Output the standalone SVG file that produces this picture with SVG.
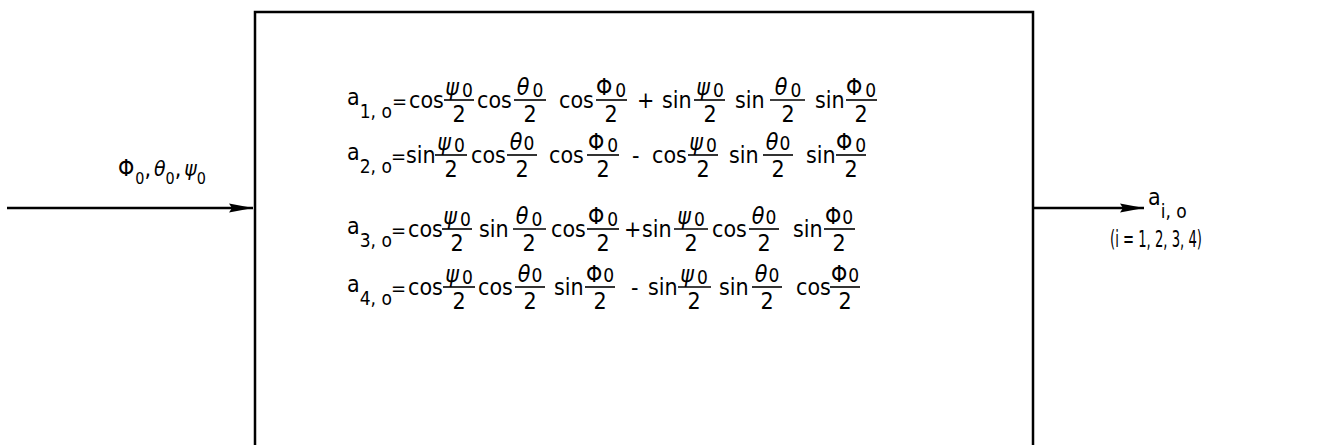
<svg xmlns="http://www.w3.org/2000/svg" width="1323" height="445" viewBox="0 0 1323 445">
<style>
text{font-family:"Liberation Sans Narrow","DejaVu Sans Condensed","Liberation Sans",sans-serif;font-size:23px;fill:#000}
.g{font-style:italic}
.s{font-size:19px}
.ls{font-size:16px}
.eq{font-size:20px}
.bar{stroke:#000;stroke-width:1.6}
.box{fill:none;stroke:#000;stroke-width:2.5}
.conn{stroke:#000;stroke-width:2.4;fill:none}
.n{text-anchor:middle}
</style>
<defs>
<marker id="ah" markerWidth="26" markerHeight="12" refX="24" refY="6" orient="auto" markerUnits="userSpaceOnUse">
<path d="M0,1.5 L24,6 L0,10.5 L3,6 Z" fill="#000"/>
</marker>
</defs>
<rect width="1323" height="445" fill="#fff"/>
<g id="connectors">
<line class="conn" x1="7" y1="208" x2="253" y2="208" marker-end="url(#ah)"/>
<line class="conn" x1="1033" y1="208" x2="1144" y2="208" marker-end="url(#ah)"/>
</g>
<g id="input-label">
<text x="118" y="176">Φ<tspan class="ls" dx="1" dy="8">0</tspan><tspan dy="-8">,</tspan><tspan class="g" dx="3" font-size="21">θ</tspan><tspan class="ls" dy="8">0</tspan><tspan dy="-8">,</tspan><tspan class="g" dx="3" font-size="21">ψ</tspan><tspan class="ls" dy="8">0</tspan></text>
</g>
<g id="quaternion-box">
<rect class="box" x="255" y="12" width="778" height="460"/>
<g id="eq1">
<text x="347" y="105">a<tspan class="s" dy="13">1, o</tspan></text>
<text class="eq" x="392" y="108">=</text>
<text x="409" y="108">cos</text>
<line class="bar" x1="444" y1="100" x2="474" y2="100"/><text class="n" x="459" y="95"><tspan class="g">ψ</tspan><tspan class="s" dx="3" dy="2">0</tspan></text><text class="n" x="459" y="122">2</text>
<text x="477" y="108">cos</text>
<line class="bar" x1="514" y1="100" x2="546" y2="100"/><text class="n" x="530" y="95"><tspan class="g">θ</tspan><tspan class="s" dx="3" dy="2">0</tspan></text><text class="n" x="530" y="122">2</text>
<text x="559" y="108">cos</text>
<line class="bar" x1="596" y1="100" x2="627" y2="100"/><text class="n" x="611" y="95">Φ<tspan class="s" dx="3" dy="2">0</tspan></text><text class="n" x="611" y="122">2</text>
<text x="637" y="108">+</text>
<text x="662" y="108">sin</text>
<line class="bar" x1="694" y1="100" x2="725" y2="100"/><text class="n" x="710" y="95"><tspan class="g">ψ</tspan><tspan class="s" dx="3" dy="2">0</tspan></text><text class="n" x="710" y="122">2</text>
<text x="735" y="108">sin</text>
<line class="bar" x1="770" y1="100" x2="805" y2="100"/><text class="n" x="788" y="95"><tspan class="g">θ</tspan><tspan class="s" dx="3" dy="2">0</tspan></text><text class="n" x="788" y="122">2</text>
<text x="815" y="108">sin</text>
<line class="bar" x1="846" y1="100" x2="877" y2="100"/><text class="n" x="861" y="95">Φ<tspan class="s" dx="3" dy="2">0</tspan></text><text class="n" x="861" y="122">2</text>
</g>
<g id="eq2">
<text x="347" y="160">a<tspan class="s" dy="13">2, o</tspan></text>
<text class="eq" x="391" y="163">=</text>
<text x="406" y="163">sin</text>
<line class="bar" x1="435" y1="155" x2="467" y2="155"/><text class="n" x="451" y="150"><tspan class="g">ψ</tspan><tspan class="s" dx="3" dy="2">0</tspan></text><text class="n" x="451" y="177">2</text>
<text x="471" y="163">cos</text>
<line class="bar" x1="507" y1="155" x2="537" y2="155"/><text class="n" x="522" y="150"><tspan class="g">θ</tspan><tspan class="s" dx="1">0</tspan></text><text class="n" x="522" y="177">2</text>
<text x="549" y="163">cos</text>
<line class="bar" x1="587" y1="155" x2="619" y2="155"/><text class="n" x="603" y="150">Φ<tspan class="s" dx="3" dy="2">0</tspan></text><text class="n" x="603" y="177">2</text>
<text x="632" y="163">-</text>
<text x="652" y="163">cos</text>
<line class="bar" x1="688" y1="155" x2="718" y2="155"/><text class="n" x="703" y="150"><tspan class="g">ψ</tspan><tspan class="s" dx="3" dy="2">0</tspan></text><text class="n" x="703" y="177">2</text>
<text x="729" y="163">sin</text>
<line class="bar" x1="763" y1="155" x2="793" y2="155"/><text class="n" x="778" y="150"><tspan class="g">θ</tspan><tspan class="s" dx="1">0</tspan></text><text class="n" x="778" y="177">2</text>
<text x="806" y="163">sin</text>
<line class="bar" x1="836" y1="155" x2="866" y2="155"/><text class="n" x="851" y="150">Φ<tspan class="s" dx="3" dy="2">0</tspan></text><text class="n" x="851" y="177">2</text>
</g>
<g id="eq3">
<text x="347" y="234">a<tspan class="s" dy="13">3, o</tspan></text>
<text class="eq" x="391" y="237">=</text>
<text x="408" y="237">cos</text>
<line class="bar" x1="442" y1="229" x2="472" y2="229"/><text class="n" x="457" y="224"><tspan class="g">ψ</tspan><tspan class="s" dx="3" dy="2">0</tspan></text><text class="n" x="457" y="251">2</text>
<text x="479" y="237">sin</text>
<line class="bar" x1="513" y1="229" x2="546" y2="229"/><text class="n" x="529" y="224"><tspan class="g">θ</tspan><tspan class="s" dx="3" dy="2">0</tspan></text><text class="n" x="529" y="251">2</text>
<text x="551" y="237">cos</text>
<line class="bar" x1="587" y1="229" x2="619" y2="229"/><text class="n" x="603" y="224">Φ<tspan class="s" dx="3" dy="2">0</tspan></text><text class="n" x="603" y="251">2</text>
<text x="624" y="237">+</text>
<text x="642" y="237">sin</text>
<line class="bar" x1="674" y1="229" x2="708" y2="229"/><text class="n" x="691" y="224"><tspan class="g">ψ</tspan><tspan class="s" dx="3" dy="2">0</tspan></text><text class="n" x="691" y="251">2</text>
<text x="712" y="237">cos</text>
<line class="bar" x1="749" y1="229" x2="779" y2="229"/><text class="n" x="764" y="224"><tspan class="g">θ</tspan><tspan class="s" dx="1">0</tspan></text><text class="n" x="764" y="251">2</text>
<text x="793" y="237">sin</text>
<line class="bar" x1="824" y1="229" x2="855" y2="229"/><text class="n" x="839" y="224">Φ<tspan class="s" dx="1">0</tspan></text><text class="n" x="839" y="251">2</text>
</g>
<g id="eq4">
<text x="347" y="292">a<tspan class="s" dy="13">4, o</tspan></text>
<text class="eq" x="391" y="295">=</text>
<text x="408" y="295">cos</text>
<line class="bar" x1="443" y1="287" x2="475" y2="287"/><text class="n" x="459" y="282"><tspan class="g">ψ</tspan><tspan class="s" dx="3" dy="2">0</tspan></text><text class="n" x="459" y="309">2</text>
<text x="478" y="295">cos</text>
<line class="bar" x1="515" y1="287" x2="545" y2="287"/><text class="n" x="530" y="282"><tspan class="g">θ</tspan><tspan class="s" dx="1">0</tspan></text><text class="n" x="530" y="309">2</text>
<text x="554" y="295">sin</text>
<line class="bar" x1="585" y1="287" x2="615" y2="287"/><text class="n" x="600" y="282">Φ<tspan class="s" dx="1">0</tspan></text><text class="n" x="600" y="309">2</text>
<text x="631" y="295">-</text>
<text x="648" y="295">sin</text>
<line class="bar" x1="678" y1="287" x2="711" y2="287"/><text class="n" x="694" y="282"><tspan class="g">ψ</tspan><tspan class="s" dx="3" dy="2">0</tspan></text><text class="n" x="694" y="309">2</text>
<text x="719" y="295">sin</text>
<line class="bar" x1="752" y1="287" x2="782" y2="287"/><text class="n" x="767" y="282"><tspan class="g">θ</tspan><tspan class="s" dx="1">0</tspan></text><text class="n" x="767" y="309">2</text>
<text x="796" y="295">cos</text>
<line class="bar" x1="830" y1="287" x2="860" y2="287"/><text class="n" x="845" y="282">Φ<tspan class="s" dx="1">0</tspan></text><text class="n" x="845" y="309">2</text>
</g>
</g>
<g id="output-label">
<text x="1148" y="205">a<tspan class="s" dy="13">i, o</tspan></text>
<text x="1110" y="247" font-size="20" textLength="92" lengthAdjust="spacingAndGlyphs">(i = 1, 2, 3, 4)</text>
</g>
</svg>
